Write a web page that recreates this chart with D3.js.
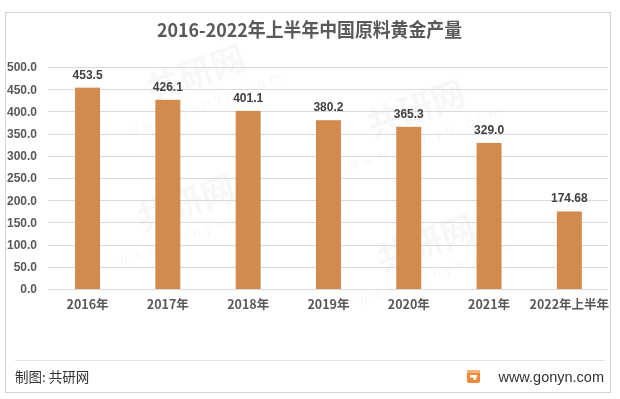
<!DOCTYPE html>
<html><head><meta charset="utf-8">
<script src="https://cdn.jsdelivr.net/npm/d3@7"></script>
<style>
html,body{margin:0;padding:0;background:#fff;}
svg text{font-family:"Liberation Sans","Noto Sans CJK SC",sans-serif;}
</style></head>
<body><svg id="c" width="620" height="399"></svg>
<script>
const categories = ["2016年","2017年","2018年","2019年","2020年","2021年","2022年上半年"];
const values = [453.5, 426.1, 401.1, 380.2, 365.3, 329.0, 174.68];
const valueLabels = ["453.5","426.1","401.1","380.2","365.3","329.0","174.68"];
const yTicks = [0,50,100,150,200,250,300,350,400,450,500];
const title = "2016-2022年上半年中国原料黄金产量";
const source = "制图: 共研网";
const site = "www.gonyn.com";

const svg = d3.select("#c");
const cjk = '"Noto Sans CJK SC","Liberation Sans",sans-serif';

// frame
svg.append("rect").attr("x",5.5).attr("y",12.5).attr("width",605).attr("height",380)
  .attr("fill","#fff").attr("stroke","#d4d4d4").attr("stroke-width",1);

// watermarks (faint)
const wm = svg.append("g").attr("fill","#000").attr("opacity",0.035).style("font-family",cjk).style("font-weight","bold");
[[200,85],[420,120],[190,215],[430,255]].forEach(([x,y])=>{
  const g = wm.append("g").attr("transform",`translate(${x},${y}) rotate(-20)`);
  g.append("text").attr("font-size",34).attr("text-anchor","middle").text("共研网");
  g.append("text").attr("y",24).attr("font-size",14).attr("text-anchor","middle").attr("letter-spacing",5).style("font-weight","normal").text("www.gonyn.com");
});

const x = d3.scaleBand().domain(categories).range([47.4,609.5]).paddingInner(0.689).paddingOuter(0.3445);
const y = d3.scaleLinear().domain([0,500]).range([289,67]);

// gridlines
svg.append("g").selectAll("line").data(yTicks).join("line")
  .attr("x1",48).attr("x2",608).attr("y1",d=>Math.round(y(d))+0.5).attr("y2",d=>Math.round(y(d))+0.5)
  .attr("stroke","#d9d9d9").attr("stroke-width",1);

// y axis labels
const yAxis = svg.append("g").attr("transform","translate(37,0)")
  .call(d3.axisLeft(y).tickValues(yTicks).tickFormat(d3.format(".1f")).tickSize(0).tickPadding(0));
yAxis.select(".domain").remove();
yAxis.selectAll("text").attr("font-size",12).attr("font-weight","bold").attr("fill","#595959")
  .style("font-family",'"Liberation Sans",sans-serif');

// bars
svg.append("g").selectAll("rect").data(values).join("rect")
  .attr("x",(d,i)=>x(categories[i])).attr("width",x.bandwidth())
  .attr("y",d=>y(d)).attr("height",d=>y(0)-y(d)).attr("fill","#D38B4D");

// value labels
svg.append("g").selectAll("text").data(values).join("text")
  .attr("x",(d,i)=>x(categories[i])+x.bandwidth()/2).attr("y",d=>y(d)-9)
  .attr("text-anchor","middle").attr("font-size",12).attr("font-weight","bold").attr("fill","#404040")
  .text((d,i)=>valueLabels[i]);

// x axis labels
const xAxis = svg.append("g").attr("transform","translate(0,300)")
  .call(d3.axisBottom(x).tickSize(0).tickPadding(0));
xAxis.select(".domain").remove();
xAxis.selectAll("text").attr("font-size",12.5).attr("font-weight","bold").attr("fill","#595959")
  .style("font-family",cjk);

// title
svg.append("text").attr("x",309.5).attr("y",37).attr("text-anchor","middle")
  .attr("font-size",19).attr("font-weight","bold").attr("fill","#595959")
  .attr("textLength",305).attr("lengthAdjust","spacingAndGlyphs")
  .style("font-family",cjk).text(title);

// footer separator
svg.append("line").attr("x1",15).attr("x2",605).attr("y1",360.5).attr("y2",360.5).attr("stroke","#e3e3e3");
svg.append("text").attr("x",15).attr("y",382).attr("font-size",13.5).attr("fill","#333")
  .style("font-family",cjk).text(source);

// logo
const lg = svg.append("g").attr("transform","translate(467,370)");
lg.append("rect").attr("width",13).attr("height",13).attr("rx",2).attr("fill","#F08A3C");
lg.append("rect").attr("x",0).attr("y",0).attr("width",13).attr("height",3).attr("fill","#F5B37A");
lg.append("rect").attr("x",3).attr("y",5).attr("width",7).attr("height",2.5).attr("fill","#fff");
lg.append("rect").attr("x",6.5).attr("y",5).attr("width",2.5).attr("height",5).attr("fill","#fff");

svg.append("text").attr("x",604).attr("y",382).attr("text-anchor","end").attr("font-size",14.5).attr("fill","#333")
  .style("font-family",'"Liberation Sans",sans-serif').text(site);
</script></body></html>
